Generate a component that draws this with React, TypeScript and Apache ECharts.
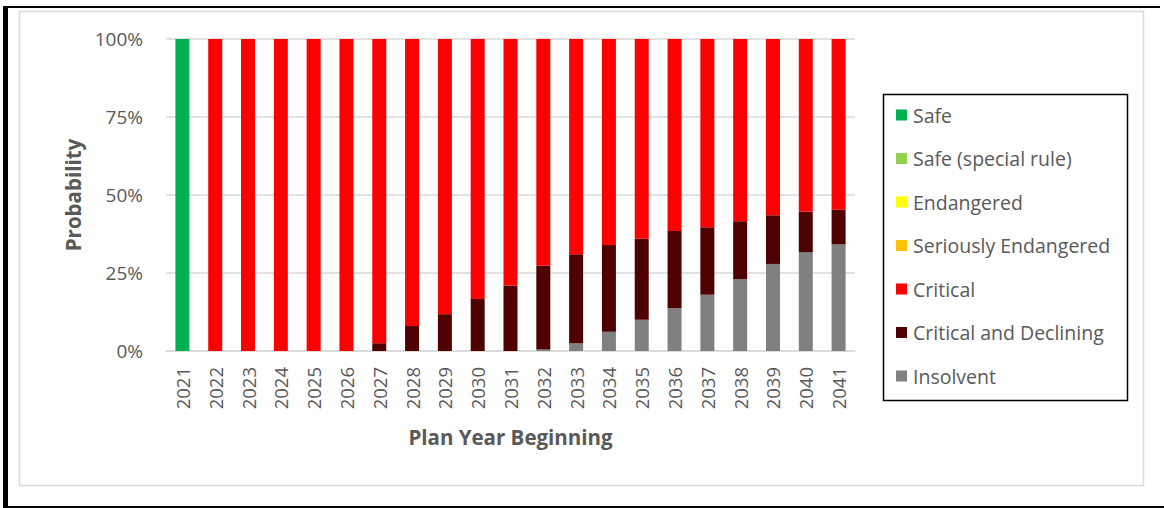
import React, { useEffect, useRef } from "react";
import * as echarts from "echarts";

const years = ["2021", "2022", "2023", "2024", "2025", "2026", "2027", "2028", "2029", "2030", "2031", "2032", "2033", "2034", "2035", "2036", "2037", "2038", "2039", "2040", "2041"];
const safe = [100, 0, 0, 0, 0, 0, 0, 0, 0, 0, 0, 0, 0, 0, 0, 0, 0, 0, 0, 0, 0];
const safeSpecial = [0, 0, 0, 0, 0, 0, 0, 0, 0, 0, 0, 0, 0, 0, 0, 0, 0, 0, 0, 0, 0];
const endangered = [0, 0, 0, 0, 0, 0, 0, 0, 0, 0, 0, 0, 0, 0, 0, 0, 0, 0, 0, 0, 0];
const seriouslyEndangered = [0, 0, 0, 0, 0, 0, 0, 0, 0, 0, 0, 0, 0, 0, 0, 0, 0, 0, 0, 0, 0];
const critical = [0, 100, 100, 100, 100, 100, 97.5, 92, 88.2, 83.3, 79, 72.7, 69, 66, 64, 61.5, 60.3, 58.4, 56.5, 55.3, 54.7];
const criticalDeclining = [0, 0, 0, 0, 0, 0, 2.5, 8, 11.8, 16.7, 21, 26.7, 28.5, 27.8, 26, 24.8, 21.7, 18.6, 15.6, 13, 11.1];
const insolvent = [0, 0, 0, 0, 0, 0, 0, 0, 0, 0, 0, 0.6, 2.5, 6.2, 10, 13.7, 18, 23, 27.9, 31.7, 34.2];
const yTicks = [0, 25, 50, 75, 100];

const legendOrder = ["Safe", "Safe (special rule)", "Endangered", "Seriously Endangered", "Critical", "Critical and Declining", "Insolvent"];

const FONT = "Open Sans";
const TXT = "#595959";

export default function App() {
  const ref = useRef<HTMLDivElement>(null);
  useEffect(() => {
    const chart = echarts.init(ref.current!, null, { renderer: "svg" });
    const mk = (name: string, data: number[], color: string) => ({
      name,
      type: "bar",
      stack: "total",
      data,
      barWidth: 14,
      itemStyle: { color },
      emphasis: { disabled: true },
    });
    chart.setOption({
      animation: false,
      textStyle: { fontFamily: FONT },
      graphic: [
        { type: "rect", shape: { x: 19.5, y: 11.5, width: 1124, height: 474 }, style: { fill: "#fff", stroke: "#d9d9d9", lineWidth: 1.5 }, z: -10 },
        { type: "rect", shape: { x: 3, y: 6, width: 5, height: 502 }, style: { fill: "#000" }, z: 10 },
        { type: "rect", shape: { x: 3, y: 6, width: 1157, height: 2 }, style: { fill: "#000" }, z: 10 },
        { type: "rect", shape: { x: 3, y: 506, width: 1161, height: 2 }, style: { fill: "#000" }, z: 10 },
        { type: "rect", shape: { x: 883.5, y: 94.5, width: 244, height: 306 }, style: { fill: "#fff", stroke: "#000", lineWidth: 1.5 }, z: -5 },
      ],
      legend: {
        data: legendOrder,
        orient: "vertical",
        left: 896,
        top: 105,
        padding: 0,
        itemWidth: 11,
        itemHeight: 11,
        itemGap: 23.5,
        icon: "rect",
        textStyle: { fontFamily: FONT, fontSize: 19.5, color: TXT, lineHeight: 20, padding: [0, 0, 0, 1] },
        selectedMode: false,
      },
      grid: { left: 166, right: 309, top: 39, bottom: 157 },
      xAxis: {
        type: "category",
        data: years,
        axisLine: { lineStyle: { color: "#d9d9d9", width: 1.5 } },
        axisTick: { show: false },
        axisLabel: { rotate: 90, margin: 16, fontSize: 18.5, color: TXT, fontFamily: FONT },
        name: "Plan Year Beginning",
        nameLocation: "middle",
        nameGap: 75,
        nameTextStyle: { fontSize: 20.5, fontWeight: "bold", color: TXT, fontFamily: FONT },
      },
      yAxis: {
        type: "value",
        min: 0,
        max: 100,
        interval: 25,
        axisLine: { show: false },
        axisTick: { show: false },
        splitLine: { lineStyle: { color: "#d9d9d9", width: 1.5 } },
        axisLabel: { formatter: (v: number) => (yTicks.includes(v) ? v + "%" : ""), margin: 23, fontSize: 19, color: TXT, fontFamily: FONT },
        name: "Probability",
        nameLocation: "middle",
        nameGap: 81,
        nameTextStyle: { fontSize: 20.5, fontWeight: "bold", color: TXT, fontFamily: FONT },
      },
      series: [
        mk("Insolvent", insolvent, "#808080"),
        mk("Critical and Declining", criticalDeclining, "#4f0000"),
        mk("Critical", critical, "#ff0000"),
        mk("Seriously Endangered", seriouslyEndangered, "#ffc000"),
        mk("Endangered", endangered, "#ffff00"),
        mk("Safe (special rule)", safeSpecial, "#92d050"),
        mk("Safe", safe, "#00b050"),
      ],
    });
    return () => chart.dispose();
  }, []);
  return <div ref={ref} style={{ position: "absolute", left: 0, top: 0, width: 1164, height: 508, background: "#fff" }} />;
}
